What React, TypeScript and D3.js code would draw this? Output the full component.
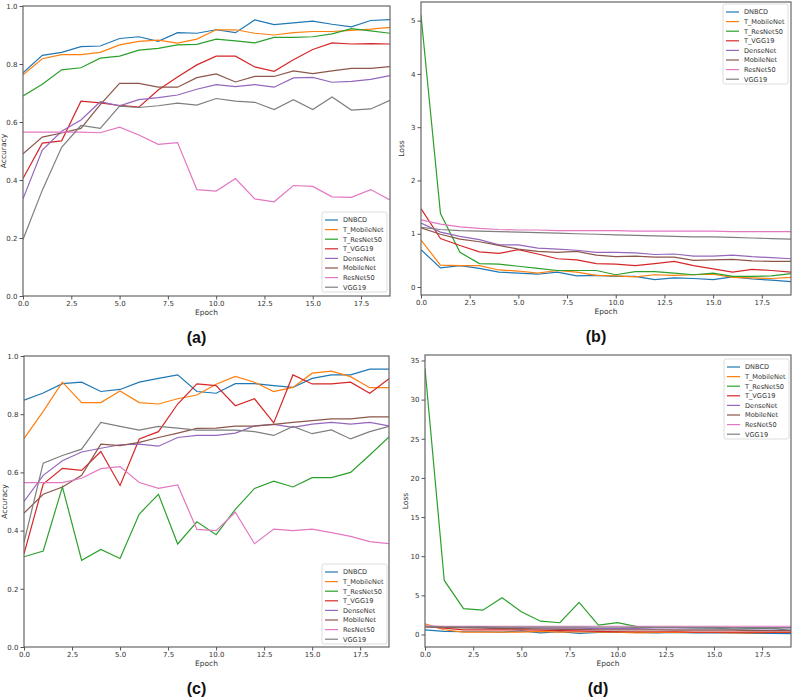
import * as d3 from "d3";
import { useEffect, useRef } from "react";

const MODELS = ["DNBCD", "T_MobileNet", "T_ResNet50", "T_VGG19", "DenseNet", "MobileNet", "ResNet50", "VGG19"];
const COLORS = ["#1f77b4", "#ff7f0e", "#2ca02c", "#d62728", "#9467bd", "#8c564b", "#e377c2", "#7f7f7f"];
const EPOCHS = [0, 1, 2, 3, 4, 5, 6, 7, 8, 9, 10, 11, 12, 13, 14, 15, 16, 17, 18, 19];
const X_TICKS = [0, 2.5, 5, 7.5, 10, 12.5, 15, 17.5];
const ACC_TICKS = [0, 0.2, 0.4, 0.6, 0.8, 1.0];
const LOSS_TICKS_B = [0, 1, 2, 3, 4, 5];
const LOSS_TICKS_D = [0, 5, 10, 15, 20, 25, 30, 35];

// (a) training accuracy, one row per model in MODELS order
const trainAccuracy = [
  [0.77, 0.83, 0.84, 0.86, 0.862, 0.888, 0.894, 0.878, 0.908, 0.906, 0.918, 0.908, 0.952, 0.936, 0.942, 0.948, 0.937, 0.928, 0.95, 0.953],
  [0.763, 0.818, 0.832, 0.832, 0.84, 0.866, 0.878, 0.882, 0.872, 0.886, 0.918, 0.918, 0.906, 0.9, 0.908, 0.912, 0.912, 0.916, 0.92, 0.926],
  [0.69, 0.73, 0.78, 0.787, 0.82, 0.827, 0.848, 0.854, 0.866, 0.868, 0.886, 0.88, 0.873, 0.892, 0.892, 0.894, 0.904, 0.922, 0.914, 0.906],
  [0.405, 0.527, 0.535, 0.672, 0.666, 0.657, 0.651, 0.71, 0.755, 0.797, 0.827, 0.827, 0.79, 0.775, 0.815, 0.85, 0.873, 0.869, 0.87, 0.869],
  [0.335, 0.503, 0.568, 0.607, 0.67, 0.656, 0.677, 0.684, 0.693, 0.713, 0.729, 0.722, 0.729, 0.72, 0.752, 0.754, 0.737, 0.74, 0.747, 0.76],
  [0.49, 0.548, 0.562, 0.578, 0.66, 0.733, 0.733, 0.72, 0.72, 0.753, 0.766, 0.738, 0.757, 0.757, 0.776, 0.767, 0.776, 0.785, 0.785, 0.791],
  [0.565, 0.565, 0.565, 0.565, 0.563, 0.582, 0.555, 0.523, 0.529, 0.367, 0.362, 0.405, 0.335, 0.325, 0.381, 0.378, 0.342, 0.34, 0.367, 0.331],
  [0.195, 0.365, 0.513, 0.588, 0.578, 0.655, 0.65, 0.656, 0.665, 0.658, 0.681, 0.672, 0.668, 0.643, 0.677, 0.643, 0.686, 0.641, 0.645, 0.675],
];

// (b) training loss
const trainLoss = [
  [0.7, 0.36, 0.4, 0.35, 0.28, 0.26, 0.24, 0.28, 0.21, 0.22, 0.2, 0.2, 0.14, 0.17, 0.16, 0.14, 0.19, 0.15, 0.13, 0.1],
  [0.88, 0.41, 0.4, 0.4, 0.32, 0.3, 0.26, 0.31, 0.28, 0.22, 0.21, 0.19, 0.23, 0.22, 0.23, 0.24, 0.18, 0.17, 0.16, 0.18],
  [5.1, 1.38, 0.65, 0.44, 0.43, 0.39, 0.35, 0.31, 0.31, 0.31, 0.23, 0.29, 0.29, 0.26, 0.23, 0.26, 0.2, 0.2, 0.21, 0.25],
  [1.47, 0.91, 0.78, 0.66, 0.63, 0.7, 0.62, 0.53, 0.51, 0.44, 0.43, 0.4, 0.44, 0.48, 0.4, 0.34, 0.28, 0.33, 0.31, 0.28],
  [1.2, 1.03, 0.95, 0.89, 0.79, 0.79, 0.73, 0.71, 0.69, 0.65, 0.65, 0.64, 0.61, 0.62, 0.58, 0.58, 0.6, 0.57, 0.55, 0.53],
  [1.11, 0.99, 0.9, 0.85, 0.78, 0.71, 0.67, 0.65, 0.67, 0.6, 0.57, 0.58, 0.56, 0.56, 0.5, 0.51, 0.52, 0.49, 0.48, 0.48],
  [1.26, 1.18, 1.13, 1.1, 1.08, 1.07, 1.07, 1.06, 1.06, 1.06, 1.06, 1.05, 1.05, 1.05, 1.05, 1.05, 1.04, 1.04, 1.04, 1.04],
  [1.12, 1.08, 1.06, 1.05, 1.04, 1.03, 1.02, 1.01, 1.0, 0.99, 0.98, 0.97, 0.96, 0.95, 0.94, 0.94, 0.93, 0.92, 0.91, 0.9],
];

// (c) validation accuracy
const valAccuracy = [
  [0.848, 0.873, 0.905, 0.91, 0.878, 0.885, 0.91, 0.923, 0.935, 0.878, 0.872, 0.905, 0.905, 0.898, 0.892, 0.923, 0.935, 0.935, 0.955, 0.955],
  [0.716, 0.81, 0.91, 0.84, 0.84, 0.88, 0.84, 0.835, 0.853, 0.866, 0.903, 0.93, 0.91, 0.878, 0.892, 0.941, 0.948, 0.929, 0.891, 0.891],
  [0.31, 0.33, 0.55, 0.298, 0.335, 0.304, 0.457, 0.525, 0.354, 0.43, 0.386, 0.473, 0.545, 0.57, 0.55, 0.582, 0.582, 0.6, 0.66, 0.722],
  [0.32, 0.56, 0.614, 0.607, 0.672, 0.555, 0.715, 0.74, 0.835, 0.904, 0.898, 0.829, 0.853, 0.77, 0.935, 0.904, 0.904, 0.91, 0.872, 0.922],
  [0.5, 0.59, 0.64, 0.67, 0.683, 0.695, 0.697, 0.69, 0.72, 0.727, 0.727, 0.735, 0.76, 0.765, 0.755, 0.766, 0.772, 0.766, 0.772, 0.76],
  [0.46, 0.525, 0.55, 0.59, 0.697, 0.692, 0.703, 0.72, 0.735, 0.751, 0.752, 0.759, 0.759, 0.765, 0.772, 0.778, 0.784, 0.784, 0.791, 0.791],
  [0.565, 0.565, 0.565, 0.58, 0.613, 0.62, 0.565, 0.545, 0.557, 0.404, 0.4, 0.463, 0.355, 0.405, 0.4, 0.405, 0.393, 0.38, 0.362, 0.355],
  [0.36, 0.632, 0.658, 0.68, 0.772, 0.758, 0.745, 0.758, 0.752, 0.745, 0.745, 0.745, 0.74, 0.727, 0.758, 0.733, 0.746, 0.715, 0.74, 0.758],
];

// (d) validation loss
const valLoss = [
  [0.6, 0.4, 0.35, 0.35, 0.3, 0.45, 0.2, 0.35, 0.15, 0.25, 0.3, 0.25, 0.2, 0.25, 0.2, 0.2, 0.2, 0.15, 0.15, 0.1],
  [1.35, 0.6, 0.3, 0.3, 0.3, 0.3, 0.4, 0.3, 0.35, 0.3, 0.3, 0.2, 0.25, 0.3, 0.25, 0.25, 0.2, 0.2, 0.25, 0.25],
  [34.0, 6.9, 3.3, 3.1, 4.7, 2.9, 1.7, 1.5, 4.1, 1.2, 1.5, 1.0, 0.9, 0.9, 0.85, 0.8, 0.7, 0.75, 0.8, 0.5],
  [1.0, 0.8, 0.6, 0.6, 0.6, 0.6, 0.55, 0.5, 0.45, 0.4, 0.35, 0.35, 0.35, 0.35, 0.3, 0.3, 0.3, 0.3, 0.3, 0.3],
  [1.0, 0.95, 0.9, 0.9, 0.85, 0.85, 0.8, 0.8, 0.8, 0.75, 0.75, 0.75, 0.7, 0.7, 0.7, 0.7, 0.7, 0.7, 0.7, 0.7],
  [1.0, 0.9, 0.85, 0.8, 0.75, 0.75, 0.7, 0.65, 0.65, 0.6, 0.6, 0.6, 0.6, 0.55, 0.55, 0.55, 0.55, 0.5, 0.5, 0.5],
  [1.1, 1.05, 1.05, 1.05, 1.05, 1.05, 1.05, 1.05, 1.05, 1.05, 1.05, 1.05, 1.05, 1.05, 1.05, 1.05, 1.05, 1.05, 1.05, 1.05],
  [1.0, 0.98, 0.97, 0.96, 0.95, 0.95, 0.94, 0.93, 0.93, 0.92, 0.92, 0.91, 0.91, 0.9, 0.9, 0.9, 0.89, 0.89, 0.88, 0.88],
];

const PANELS = [
  { tag: "(a)", series: trainAccuracy, yLabel: "Accuracy", yDomain: [0, 1], yTicks: ACC_TICKS, fmt: d3.format(".1f"),
    box: { left: 23, right: 390, top: 6, bottom: 296 }, legend: { x: 322, y: 212 } },
  { tag: "(b)", series: trainLoss, yLabel: "Loss", yDomain: [-0.15, 5.35], yTicks: LOSS_TICKS_B, fmt: d3.format("d"),
    box: { left: 421, right: 791, top: 2, bottom: 295 }, legend: { x: 723, y: 4 } },
  { tag: "(c)", series: valAccuracy, yLabel: "Accuracy", yDomain: [0, 1], yTicks: ACC_TICKS, fmt: d3.format(".1f"),
    box: { left: 24, right: 389, top: 356, bottom: 647 }, legend: { x: 322, y: 564 } },
  { tag: "(d)", series: valLoss, yLabel: "Loss", yDomain: [-1.6, 35.7], yTicks: LOSS_TICKS_D, fmt: d3.format("d"),
    box: { left: 425, right: 791, top: 355, bottom: 647 }, legend: { x: 724, y: 359 } },
];

const FONT = "DejaVu Sans, sans-serif";

export default function App() {
  const svgRef = useRef<SVGSVGElement>(null);

  useEffect(() => {
    const svg = d3.select(svgRef.current);
    svg.selectAll("*").remove();

    PANELS.forEach((p) => {
      const { box } = p;
      const x = d3.scaleLinear().domain([0, 19]).range([box.left, box.right]);
      const y = d3.scaleLinear().domain(p.yDomain).range([box.bottom, box.top]);
      const g = svg.append("g").attr("class", "panel");

      const line = d3
        .line<number>()
        .x((_, i) => x(EPOCHS[i]))
        .y((d) => y(d));

      const clipId = "clip-" + p.tag.replace(/[()]/g, "");
      g.append("clipPath")
        .attr("id", clipId)
        .append("rect")
        .attr("x", box.left)
        .attr("y", box.top)
        .attr("width", box.right - box.left)
        .attr("height", box.bottom - box.top);

      g.append("g")
        .attr("clip-path", `url(#${clipId})`)
        .selectAll("path")
        .data(p.series)
        .join("path")
        .attr("d", (d) => line(d))
        .attr("fill", "none")
        .attr("stroke", (_, i) => COLORS[i])
        .attr("stroke-width", 1.2);

      // frame
      g.append("rect")
        .attr("x", box.left)
        .attr("y", box.top)
        .attr("width", box.right - box.left)
        .attr("height", box.bottom - box.top)
        .attr("fill", "none")
        .attr("stroke", "#666")
        .attr("stroke-width", 1.2);

      const xAxis = g
        .append("g")
        .attr("transform", `translate(0,${box.bottom})`)
        .call(d3.axisBottom(x).tickValues(X_TICKS).tickFormat(d3.format(".1f")).tickSizeOuter(0).tickSize(3.5).tickPadding(2));
      const yAxis = g
        .append("g")
        .attr("transform", `translate(${box.left},0)`)
        .call(d3.axisLeft(y).tickValues(p.yTicks).tickFormat(p.fmt as any).tickSizeOuter(0).tickSize(3.5).tickPadding(2));
      [xAxis, yAxis].forEach((ax) => {
        ax.select(".domain").remove();
        ax.selectAll("line").attr("stroke", "#555");
        ax.selectAll("text").attr("fill", "#333").style("font-family", FONT).style("font-size", "7px");
      });

      const cx = (box.left + box.right) / 2;
      g.append("text")
        .attr("x", cx)
        .attr("y", box.bottom + 19)
        .attr("text-anchor", "middle")
        .style("font-family", FONT)
        .style("font-size", "7.5px")
        .attr("fill", "#333")
        .text("Epoch");

      g.append("text")
        .attr("transform", `translate(${box.left - 17},${(box.top + box.bottom) / 2}) rotate(-90)`)
        .attr("text-anchor", "middle")
        .style("font-family", FONT)
        .style("font-size", "7.5px")
        .attr("fill", "#333")
        .text(p.yLabel);

      g.append("text")
        .attr("x", cx - 10)
        .attr("y", box.bottom + 47)
        .attr("text-anchor", "middle")
        .style("font-family", "Liberation Sans, Arial, sans-serif")
        .style("font-weight", "bold")
        .style("font-size", "16px")
        .attr("fill", "#111")
        .text(p.tag);

      // legend
      const lg = g.append("g").attr("transform", `translate(${p.legend.x},${p.legend.y})`);
      lg.append("rect")
        .attr("width", 65)
        .attr("height", 80)
        .attr("rx", 2)
        .attr("fill", "white")
        .attr("fill-opacity", 0.85)
        .attr("stroke", "#d4d4d4")
        .attr("stroke-width", 0.8);
      const rows = lg
        .selectAll("g.row")
        .data(MODELS)
        .join("g")
        .attr("class", "row")
        .attr("transform", (_, i) => `translate(0,${8 + i * 9.6})`);
      rows.append("line")
        .attr("x1", 3)
        .attr("x2", 16)
        .attr("stroke", (_, i) => COLORS[i])
        .attr("stroke-width", 1.2);
      rows.append("text")
        .attr("x", 21)
        .attr("dy", "0.35em")
        .style("font-family", FONT)
        .style("font-size", "6.6px")
        .attr("fill", "#333")
        .text((d) => d);
    });
  }, []);

  return (
    <svg
      ref={svgRef}
      width={793}
      height={699}
      style={{ position: "absolute", left: 0, top: 0, background: "white" }}
    />
  );
}
